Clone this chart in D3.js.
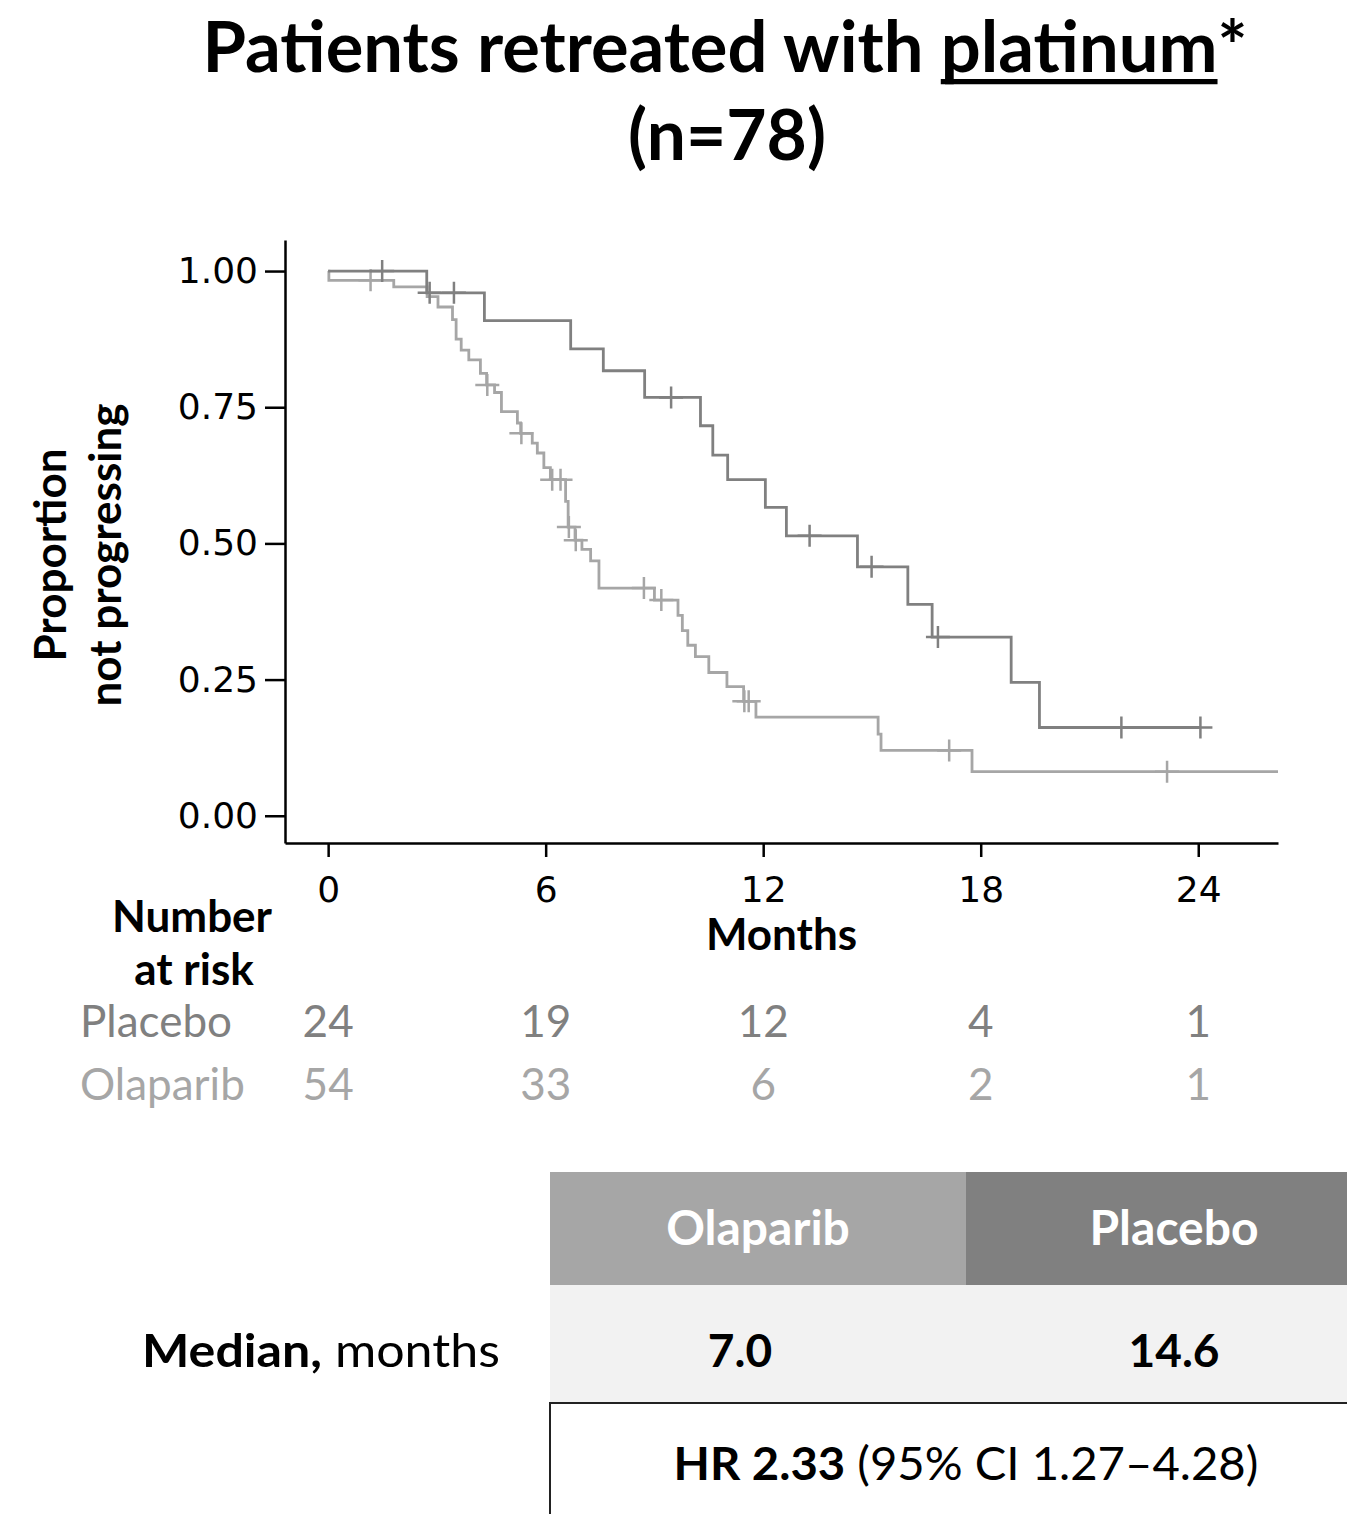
<!DOCTYPE html>
<html>
<head>
<meta charset="utf-8">
<script src="https://cdn.jsdelivr.net/npm/d3@7"></script>
<style>
  html, body { margin: 0; padding: 0; background: #fff; }
  svg { display: block; }
</style>
</head>
<body>
<svg id="chart" width="1347" height="1514"></svg>
<script>
// ---- Kaplan–Meier data: [month, proportion not progressing after the event] ----
const placeboEvents = [
  [2.72, 0.960], [4.31, 0.909], [6.69, 0.857], [7.59, 0.817], [8.73, 0.768],
  [10.27, 0.716], [10.61, 0.662], [11.02, 0.617], [12.06, 0.566], [12.64, 0.514],
  [14.6, 0.457], [15.99, 0.388], [16.66, 0.328], [18.84, 0.245], [19.62, 0.162]
];
const placeboCensored = [1.49, 2.80, 3.47, 9.46, 13.28, 14.99, 16.82, 21.88, 24.06];
const placeboFollowUpEnd = 24.06;

const olaparibEvents = [
  [0.02, 0.983], [1.81, 0.971], [2.73, 0.953], [3.03, 0.934], [3.43, 0.911],
  [3.53, 0.875], [3.67, 0.855], [3.88, 0.837], [4.20, 0.812], [4.37, 0.791],
  [4.59, 0.777], [4.78, 0.742], [5.22, 0.721], [5.31, 0.702], [5.63, 0.684],
  [5.77, 0.666], [5.95, 0.639], [6.13, 0.617], [6.55, 0.577], [6.62, 0.530],
  [6.81, 0.506], [7.0, 0.489], [7.24, 0.468], [7.47, 0.418], [9.0, 0.396],
  [9.65, 0.368], [9.77, 0.340], [9.92, 0.313], [10.13, 0.292], [10.50, 0.263],
  [11.0, 0.237], [11.46, 0.210], [11.80, 0.181], [15.17, 0.150], [15.25, 0.120],
  [17.76, 0.081]
];
const olaparibCensored = [1.17, 4.39, 5.33, 6.18, 6.41, 6.64, 6.83, 8.71, 9.19, 11.48, 11.60, 17.13, 23.14];
const olaparibFollowUpEnd = 26.2;

// ---- axes and table ----
const monthTicks = [0, 6, 12, 18, 24];
const proportionTicks = [0, 0.25, 0.5, 0.75, 1];
const riskGroups = ["Placebo", "Olaparib"];
const placeboAtRisk = [24, 19, 12, 4, 1];
const olaparibAtRisk = [54, 33, 6, 2, 1];
const tableArms = ["Olaparib", "Placebo"];
const medianMonths = ["7.0", "14.6"];
const hrText = "HR 2.33";
const ciText = " (95% CI 1.27–4.28)";

const armColor = { Placebo: "#808080", Olaparib: "#a6a6a6" };
const SANS = "Lato, 'Open Sans', sans-serif";
const TICKFONT = "'DejaVu Sans', Verdana, sans-serif";

const svg = d3.select("#chart");

// Lay out a line made of styled runs, optionally squeezed to a set width.
function richLine(parent, runs, opts) {
  const g = parent.append("g");
  const inner = g.append("g");
  let cursor = 0;
  const placed = [];
  runs.forEach(r => {
    const t = inner.append("text")
      .attr("x", cursor).attr("y", 0)
      .attr("font-family", SANS)
      .attr("font-size", opts.size)
      .attr("font-weight", r.bold ? 700 : 400)
      .attr("fill", opts.fill || "#000")
      .style("white-space", "pre")
      .text(r.text);
    const w = t.node().getComputedTextLength();
    placed.push({ r, x: cursor, w });
    cursor += w;
  });
  const total = cursor;
  const sx = opts.width ? opts.width / total : 1;
  let x0 = opts.x;
  if (opts.anchor === "middle") x0 = opts.x - total * sx / 2;
  if (opts.anchor === "end") x0 = opts.x - total * sx;
  inner.attr("transform", `translate(${x0},${opts.y}) scale(${sx},1)`);
  placed.forEach(p => {
    if (p.r.underline) {
      inner.append("rect")
        .attr("x", p.x).attr("width", p.w)
        .attr("y", opts.size * 0.1).attr("height", opts.size * 0.075)
        .attr("fill", opts.fill || "#000");
    }
  });
  return g;
}

// ---- title ----
richLine(svg, [
  { text: "Patients retreated with ", bold: true },
  { text: "platinum", bold: true, underline: true },
  { text: "*", bold: true }
], { x: 725, y: 72, size: 70, anchor: "middle", width: 1045 });
richLine(svg, [{ text: "(n=78)", bold: true }],
  { x: 727, y: 160, size: 70, anchor: "middle", width: 198 });

// ---- scales ----
const x = d3.scaleLinear().domain([-1.19, 26.2]).range([285, 1278]);
const y = d3.scaleLinear().domain([-0.05, 1.057]).range([843, 240]);

// ---- axes ----
const yAxis = svg.append("g")
  .attr("transform", `translate(${x(-1.19)},0)`)
  .call(d3.axisLeft(y).tickValues(proportionTicks).tickFormat(d3.format(".2f"))
    .tickSize(20).tickSizeOuter(0).tickPadding(7));
const xAxis = svg.append("g")
  .attr("transform", `translate(0,${y(-0.05)})`)
  .call(d3.axisBottom(x).tickValues(monthTicks)
    .tickSize(14).tickSizeOuter(0).tickPadding(19));
[yAxis, xAxis].forEach(a => {
  a.selectAll(".domain, .tick line").attr("stroke", "#000").attr("stroke-width", 2.5);
  a.selectAll(".tick text").attr("font-family", TICKFONT).attr("font-size", 36).attr("fill", "#000");
});

// ---- axis titles ----
const yTitle = svg.append("g").attr("font-family", SANS).attr("font-weight", 700)
  .attr("font-size", 44).attr("text-anchor", "middle");
yTitle.append("text").attr("transform", "translate(66,555) rotate(-90)").text("Proportion");
yTitle.append("text").attr("transform", "translate(121,555) rotate(-90)").text("not progressing");

svg.append("text").attr("x", (x.range()[0] + x.range()[1]) / 2).attr("y", 950)
  .attr("font-family", SANS).attr("font-weight", 700).attr("font-size", 44)
  .attr("text-anchor", "middle").text("Months");

// ---- survival curves ----
function stepPoints(events, end) {
  const pts = [[0, 1], ...events];
  pts.push([end, events[events.length - 1][1]]);
  return pts;
}
function survivalAt(events, t) {
  let s = 1;
  events.forEach(e => { if (e[0] <= t) s = e[1]; });
  return s;
}
const line = d3.line().x(d => x(d[0])).y(d => y(d[1])).curve(d3.curveStepAfter);

const arms = [
  { name: "Olaparib", events: olaparibEvents, censored: olaparibCensored, end: olaparibFollowUpEnd },
  { name: "Placebo", events: placeboEvents, censored: placeboCensored, end: placeboFollowUpEnd }
];
const curves = svg.append("g");
arms.forEach(arm => {
  const g = curves.append("g").attr("stroke", armColor[arm.name]).attr("fill", "none");
  g.append("path").attr("d", line(stepPoints(arm.events, arm.end))).attr("stroke-width", 2.8);
  g.selectAll("path.censor").data(arm.censored).join("path")
    .attr("class", "censor")
    .attr("stroke-width", 2.5)
    .attr("d", t => {
      const cx = x(t), cy = y(survivalAt(arm.events, t));
      return `M${cx - 12},${cy}H${cx + 12}M${cx},${cy - 11}V${cy + 11}`;
    });
});

// ---- number at risk ----
svg.append("text").attr("x", 192).attr("y", 932).attr("text-anchor", "middle")
  .attr("font-family", SANS).attr("font-weight", 700).attr("font-size", 44).text("Number");
svg.append("text").attr("x", 194).attr("y", 985).attr("text-anchor", "middle")
  .attr("font-family", SANS).attr("font-weight", 700).attr("font-size", 44).text("at risk");

const riskRowY = d3.scalePoint().domain(riskGroups).range([1037, 1100]);
const atRisk = { Placebo: placeboAtRisk, Olaparib: olaparibAtRisk };
riskGroups.forEach(grp => {
  const row = svg.append("g").attr("font-family", SANS).attr("font-size", 44)
    .attr("fill", armColor[grp]);
  row.append("text").attr("x", 80).attr("y", riskRowY(grp)).text(grp);
  row.selectAll("text.n").data(atRisk[grp]).join("text")
    .attr("class", "n")
    .attr("x", (d, i) => x(monthTicks[i]))
    .attr("y", riskRowY(grp))
    .attr("text-anchor", "middle")
    .text(d => d);
});

// ---- summary table ----
const col = d3.scaleBand().domain(tableArms).range([550, 1382]);
const headerTop = 1172, headerBottom = 1285, medianBottom = 1402;

svg.append("rect").attr("x", col.range()[0]).attr("y", headerBottom)
  .attr("width", col.range()[1] - col.range()[0]).attr("height", medianBottom - headerBottom)
  .attr("fill", "#f2f2f2");
tableArms.forEach((arm, i) => {
  svg.append("rect").attr("x", col(arm)).attr("y", headerTop)
    .attr("width", col.bandwidth()).attr("height", headerBottom - headerTop)
    .attr("fill", armColor[arm]);
  svg.append("text").attr("x", col(arm) + col.bandwidth() / 2).attr("y", 1245)
    .attr("text-anchor", "middle").attr("font-family", SANS).attr("font-weight", 700)
    .attr("font-size", 48).attr("fill", "#fff").text(arm);
  svg.append("text").attr("x", col(arm) + col.bandwidth() / 2 + (i === 0 ? -18 : 0)).attr("y", 1367)
    .attr("text-anchor", "middle").attr("font-family", SANS).attr("font-weight", 700)
    .attr("font-size", 46).attr("fill", "#000").text(medianMonths[i]);
});
richLine(svg, [{ text: "Median,", bold: true }, { text: " months" }],
  { x: 500, y: 1367, size: 46, anchor: "end", width: 358 });

svg.append("path")
  .attr("d", `M${col.range()[0]},1514V${medianBottom + 1}H${col.range()[1]}`)
  .attr("fill", "none").attr("stroke", "#222").attr("stroke-width", 2);
richLine(svg, [{ text: hrText, bold: true }, { text: ciText }],
  { x: (col.range()[0] + col.range()[1]) / 2, y: 1480, size: 46, anchor: "middle", width: 585 });
</script>
</body>
</html>
